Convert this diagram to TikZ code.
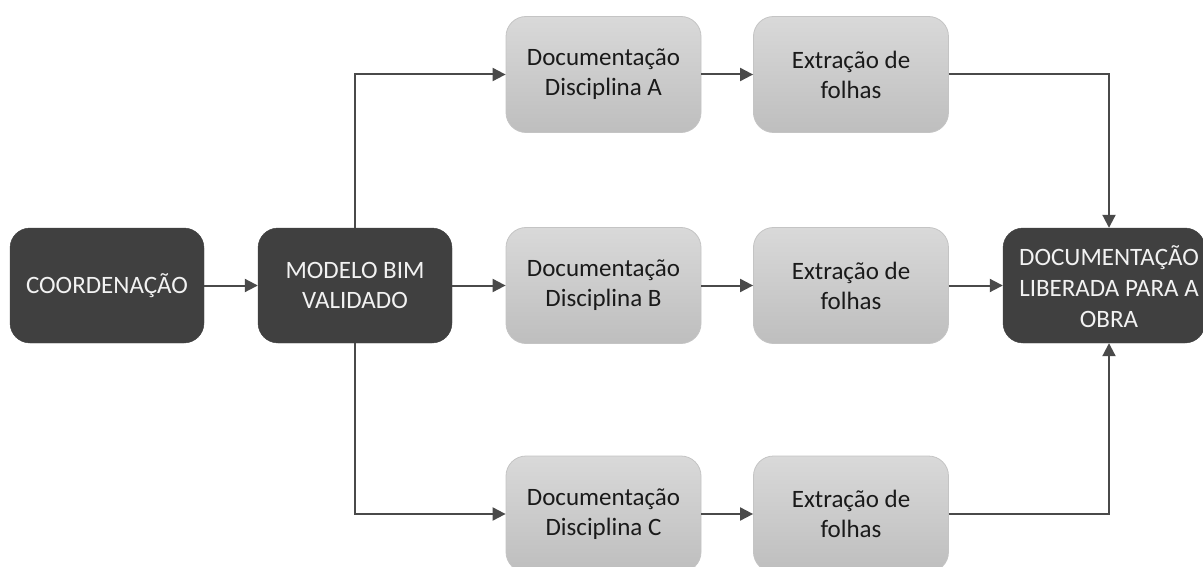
\documentclass[tikz,border=0pt]{standalone}
\usepackage{fontspec}
\setmainfont{Carlito}
\usetikzlibrary{arrows.meta,calc}
\definecolor{darkfill}{HTML}{404040}
\definecolor{lighttop}{HTML}{D9D9D9}
\definecolor{lightbot}{HTML}{BEBEBE}
\definecolor{lightborder}{HTML}{C4C4C4}
\definecolor{linecol}{HTML}{4A4A4A}
\definecolor{darktext}{HTML}{F2F2F2}
\definecolor{lighttext}{HTML}{1A1A1A}
\tikzset{
  darkbox/.style={rounded corners=20pt, fill=darkfill, draw=darkfill, minimum width=194pt, minimum height=115pt, text=darktext, align=center, font=\fontsize{25}{30}\selectfont, inner sep=0pt},
  lightbox/.style={rounded corners=20pt, top color=lighttop, bottom color=lightbot, draw=lightborder, line width=0.8pt, minimum width=195pt, minimum height=116pt, text=lighttext, align=center, font=\fontsize{25}{30}\selectfont, inner sep=0pt},
  txt/.style={text=darktext, align=center, font=\fontsize{25}{31}\selectfont, inner sep=0pt},
  conn/.style={draw=linecol, line width=2pt, -{Triangle[length=13pt,width=13pt]}}
}
\begin{document}
\begin{tikzpicture}[x=1pt,y=-1pt]
\useasboundingbox (0,0) rectangle (1203,567);
\node[darkbox] (coord) at (107,285.5) {COORDENAÇÃO};
\node[darkbox] (modelo) at (355,285.5) {MODELO BIM\\VALIDADO};
\node[lightbox] (docA) at (603.5,74.5) {Documentação\\Disciplina A};
\node[lightbox] (extA) at (851,74.5) {Extração de\\folhas};
\node[lightbox] (docB) at (603.5,285.5) {Documentação\\Disciplina B};
\node[lightbox] (extB) at (851,285.5) {Extração de\\folhas};
\node[lightbox] (docC) at (603.5,514) {Documentação\\Disciplina C};
\node[lightbox] (extC) at (851,514) {Extração de\\folhas};
\node[darkbox, minimum width=202pt] (fin) at (1104,285.5) {};
\node[txt] (fintext) at (1109,287) {DOCUMENTAÇÃO\\LIBERADA PARA A\\OBRA};
\draw[conn] (coord) -- (modelo);
\draw[conn] (modelo) -- (docB);
\draw[conn] (modelo.north) |- (docA.west);
\draw[conn] (modelo.south) |- (docC.west);
\draw[conn] (docA) -- (extA);
\draw[conn] (docB) -- (extB);
\draw[conn] (docC) -- (extC);
\draw[conn] (extA.east) -| (fintext |- fin.north);
\draw[conn] (extB.east) -- (fin.west |- extB.east);
\draw[conn] (extC.east) -| (fintext |- fin.south);
\end{tikzpicture}
\end{document}
